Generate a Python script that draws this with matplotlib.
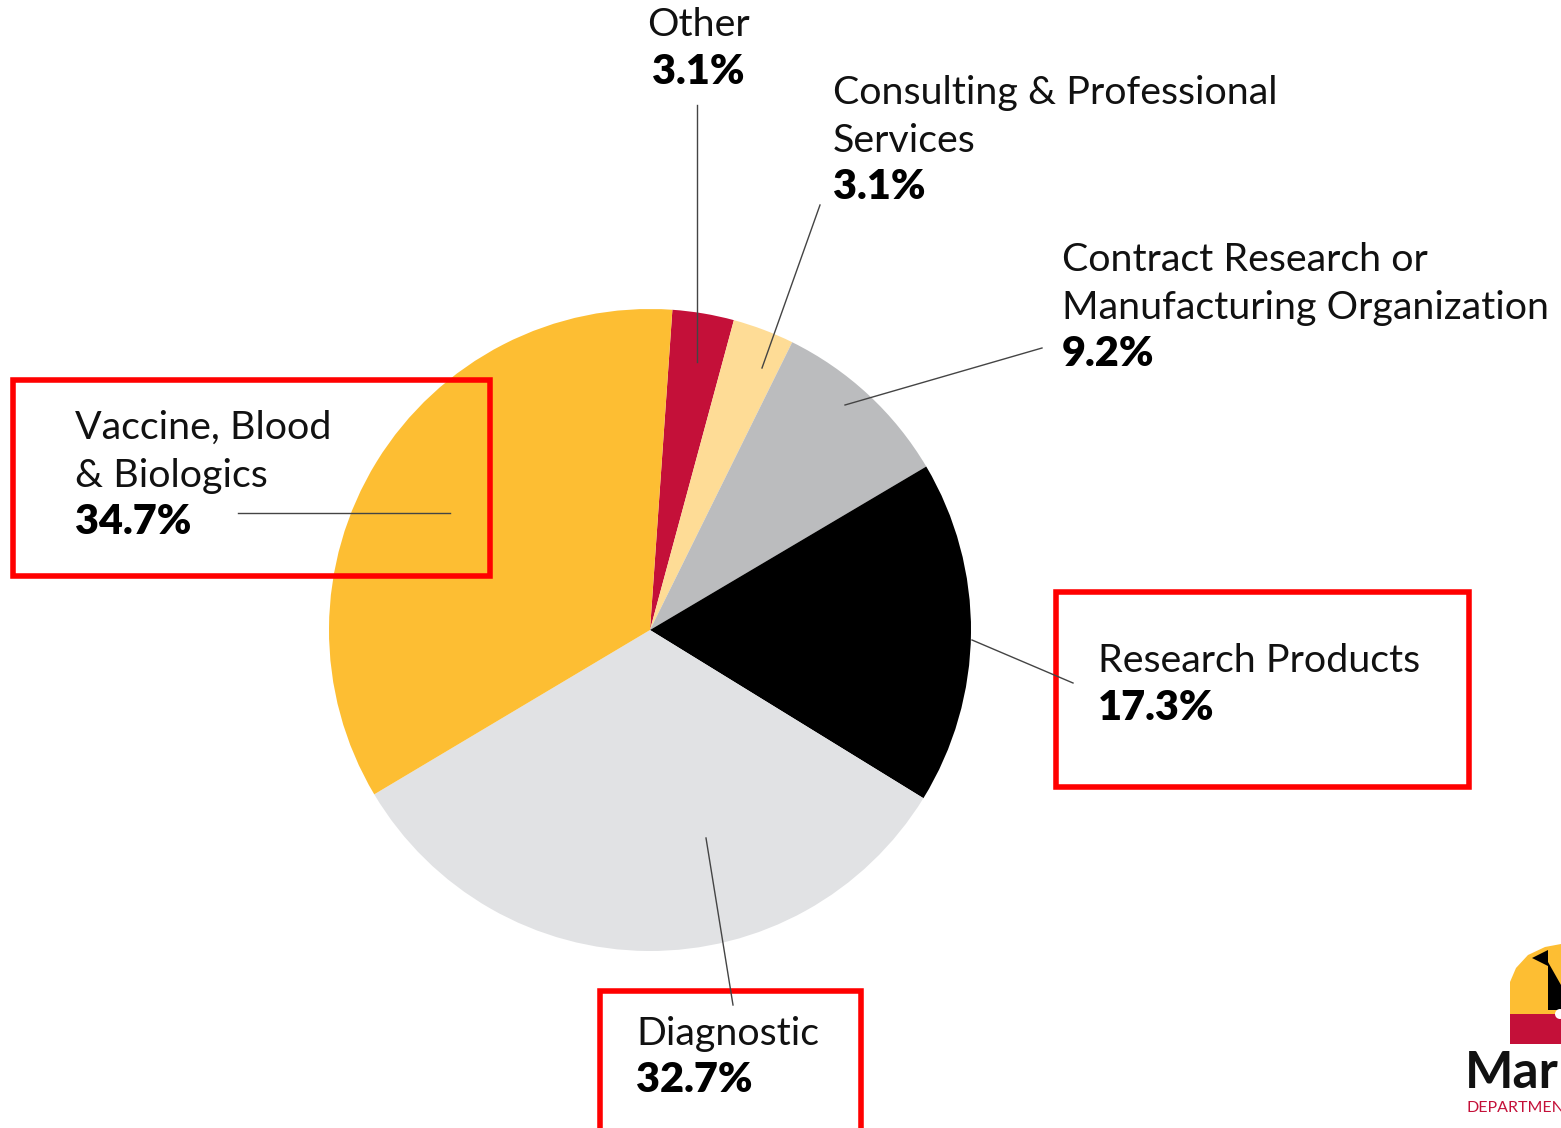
import numpy as np
import matplotlib
matplotlib.use("Agg")
import matplotlib.pyplot as plt
from matplotlib.patches import Rectangle, Polygon, Circle

# data
categories = ["Other", "Consulting & Professional\nServices",
              "Contract Research or\nManufacturing Organization",
              "Research Products", "Diagnostic", "Vaccine, Blood\n& Biologics"]
shares = [3.1, 3.1, 9.2, 17.3, 32.7, 34.7]
colors = ["#C41039", "#FEDC96", "#BBBCBE", "#000000", "#E1E2E4", "#FDBE33"]

W, H = 1561, 1128
plt.rcParams['font.family'] = ['Lato', 'DejaVu Sans']

fig = plt.figure(figsize=(W / 100, H / 100), dpi=100)
ax = fig.add_axes([0, 0, 1, 1])

def py(y):
    # pixel row (from top) -> data y
    return H - y

ax.pie(shares, colors=colors, startangle=86, counterclock=False,
       center=(650, py(630)), radius=321, frame=True,
       wedgeprops=dict(linewidth=0))
ax.set_xlim(0, W)
ax.set_ylim(0, H)
ax.set_aspect('equal')
ax.axis('off')

# label positions: (x, y of first line, ha)
label_pos = [(698, 25, 'center'), (833, 93, 'left'), (1062, 260, 'left'),
             (1098, 661, 'left'), (636, 1034, 'left'), (75, 428, 'left')]
leaders = [((697, 105), (697, 362)), ((820, 205), (762, 368)),
           ((1042, 348), (845, 405)), ((972, 640), (1073, 683)),
           ((706, 838), (733, 1005)), ((238, 513), (450, 513))]

fs = 28.4
step = 47.5
for name, val, (x, y, ha), (p0, p1) in zip(categories, shares, label_pos, leaders):
    lines = name.split("\n")
    for i, ln in enumerate(lines):
        ax.text(x, py(y + i * step), ln, fontsize=fs, ha=ha, va='center',
                color='#111111')
    ax.text(x, py(y + len(lines) * step - 1), f"{val}%", fontsize=fs + 1.5,
            fontweight='heavy', ha=ha, va='center', color='#000000')
    ax.plot([p0[0], p1[0]], [py(p0[1]), py(p1[1])], color='#444444', lw=1)

# red highlight boxes
for x0, y0, x1, y1 in [(13, 380, 490, 576), (1056, 592, 1469, 787),
                       (600, 991, 861, 1140)]:
    ax.add_patch(Rectangle((x0, py(y1)), x1 - x0, y1 - y0, fill=False,
                           edgecolor='#FF0000', lw=4, clip_on=False))

# partial logo at the bottom right
ax.add_patch(Polygon([(1510, py(1014)), (1510, py(982)), (1516, py(968)),
                      (1528, py(955)), (1545, py(947)), (1561, py(944)),
                      (1561, py(1014))],
                     closed=True, facecolor='#FDBE33', edgecolor='none'))
ax.add_patch(Polygon([(1532, py(958)), (1548, py(950)), (1548, py(966))],
                     closed=True, facecolor='black', edgecolor='none'))
ax.add_patch(Polygon([(1548, py(962)), (1561, py(985)), (1561, py(1010)),
                      (1548, py(1010))], closed=True, facecolor='black',
                     edgecolor='none'))
ax.add_patch(Rectangle((1510, py(1044)), 51, 30, facecolor='#C41039',
                       edgecolor='none'))
ax.add_patch(Circle((1560, py(1014)), 5, facecolor='white', edgecolor='none'))
ax.text(1465, py(1088), "Mar", fontsize=37, fontweight='bold', ha='left',
        va='baseline', color='#111111')
ax.text(1467, py(1108), "DEPARTMENT", fontsize=11.5, ha='left', va='center',
        color='#C41039')

fig.savefig("out.png", dpi=100)
